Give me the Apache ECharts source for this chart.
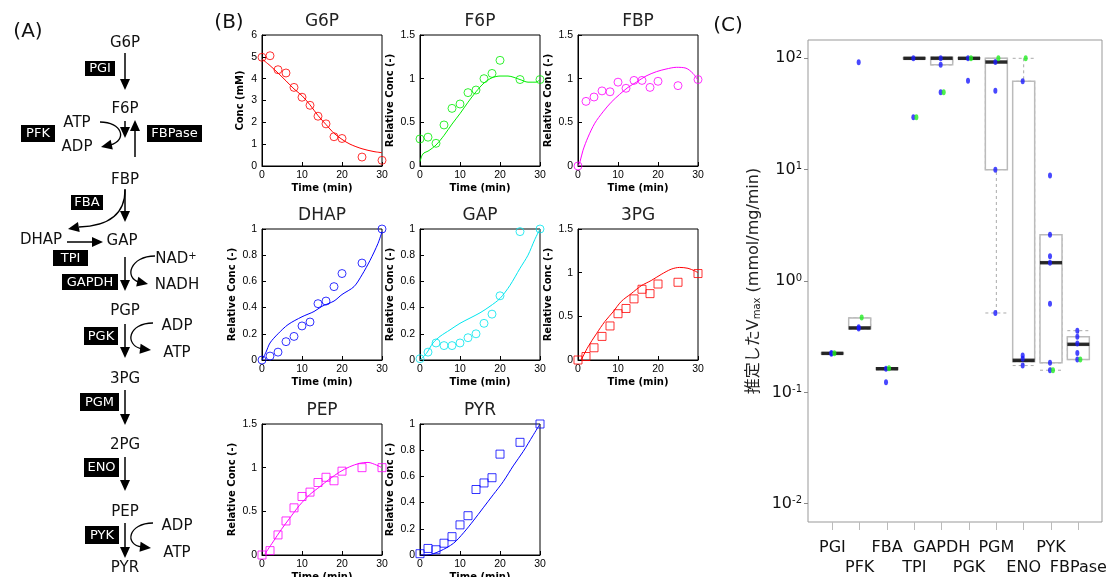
<!DOCTYPE html>
<html>
<head>
<meta charset="utf-8">
<title>Glycolysis model fit</title>
<script src="https://cdn.jsdelivr.net/npm/echarts@6.0.0/dist/echarts.min.js"></script>
<style>
  html, body { margin: 0; padding: 0; background: #fff; }
  #chart { width: 1113px; height: 577px; }
</style>
</head>
<body>
<div id="chart"></div>
<script>
// ---- (B) time courses: measured points (min) ----
const timePts = [0, 2, 4, 6, 8, 10, 12, 14, 16, 18, 20, 25, 30];

const g6pObs  = [4.98, 5.05, 4.41, 4.26, 3.6, 3.15, 2.78, 2.28, 1.93, 1.34, 1.26, 0.41, 0.26];
const f6pObs  = [0.31, 0.33, 0.26, 0.47, 0.66, 0.71, 0.84, 0.87, 1.0, 1.06, 1.21, 0.99, 0.99];
const fbpObs  = [0, 0.74, 0.79, 0.86, 0.85, 0.96, 0.89, 0.98, 0.98, 0.9, 0.97, 0.92, 0.99];
const dhapObs = [0, 0.03, 0.06, 0.14, 0.18, 0.26, 0.29, 0.43, 0.45, 0.56, 0.66, 0.74, 1.0];
const gapObs  = [0.01, 0.06, 0.13, 0.11, 0.11, 0.13, 0.17, 0.2, 0.28, 0.35, 0.49, 0.98, 1.0];
const pg3Obs  = [0, 0.04, 0.14, 0.27, 0.39, 0.53, 0.59, 0.7, 0.81, 0.76, 0.87, 0.89, 0.99];
const pepObs  = [0, 0.05, 0.23, 0.39, 0.54, 0.67, 0.72, 0.83, 0.89, 0.85, 0.96, 1.0, 1.0];
const pyrObs  = [0.01, 0.05, 0.04, 0.09, 0.14, 0.23, 0.3, 0.5, 0.55, 0.59, 0.77, 0.86, 1.0];

// ---- (B) simulated curves ----
const g6pFitT  = [0, 2, 4, 6, 8, 10, 12, 14, 16, 18, 20, 22, 25, 28, 30];
const g6pFitY  = [4.9, 4.6, 4.26, 3.9, 3.53, 3.22, 2.8, 2.31, 1.9, 1.5, 1.22, 1.0, 0.79, 0.66, 0.61];
const f6pFitT  = [0, 0.5, 1, 2, 4, 6, 8, 10, 12, 14, 16, 18, 20, 22, 25, 27, 29, 30];
const f6pFitY  = [0.05, 0.12, 0.15, 0.17, 0.24, 0.35, 0.48, 0.6, 0.73, 0.85, 0.95, 1.01, 1.03, 1.03, 0.99, 0.96, 0.96, 0.99];
const fbpFitT  = [0, 0.5, 1.25, 2.5, 4.2, 6.25, 8.3, 10.4, 12.5, 14.6, 17, 19.6, 22, 24.6, 27, 28.75, 30];
const fbpFitY  = [0, 0.05, 0.18, 0.33, 0.49, 0.62, 0.73, 0.82, 0.9, 0.96, 1.03, 1.08, 1.11, 1.13, 1.12, 1.06, 0.98];
const dhapFitT = [0, 1, 2, 4, 6.5, 10, 13, 15, 18, 20, 23, 25, 27, 29, 30];
const dhapFitY = [0, 0.06, 0.13, 0.2, 0.27, 0.33, 0.37, 0.41, 0.45, 0.5, 0.56, 0.65, 0.76, 0.89, 0.98];
const gapFitT  = [0, 1.6, 3.25, 5, 7.5, 10, 12.5, 15, 17.5, 20, 22.5, 25, 27, 28.7, 30];
const gapFitY  = [0, 0.05, 0.13, 0.18, 0.23, 0.28, 0.32, 0.36, 0.41, 0.47, 0.57, 0.7, 0.8, 0.92, 1.0];
const pg3FitT  = [0.8, 2.5, 4.6, 6.7, 8.75, 10.8, 13.3, 15.8, 18.3, 20.8, 23.3, 25.4, 27.5, 29.2, 30];
const pg3FitY  = [0, 0.15, 0.3, 0.44, 0.55, 0.67, 0.76, 0.85, 0.91, 0.98, 1.04, 1.06, 1.05, 1.02, 1.0];
const pepFitT  = [0.7, 2.75, 4.8, 6.9, 9.4, 11.9, 14.4, 16.9, 19.4, 21.9, 24.4, 26.5, 28.6, 30];
const pepFitY  = [0.01, 0.15, 0.29, 0.42, 0.57, 0.69, 0.78, 0.87, 0.95, 1.01, 1.05, 1.06, 1.03, 1.0];
const pyrFitT  = [0, 1.7, 5, 8.4, 10.9, 13.3, 15.8, 18.3, 20.8, 23.3, 25.8, 28.2, 30];
const pyrFitY  = [0, 0, 0.03, 0.09, 0.17, 0.26, 0.36, 0.46, 0.56, 0.68, 0.79, 0.91, 1.0];

// ---- (C) estimated Vmax ----
const enzymes  = ['PGI', 'PFK', 'FBA', 'TPI', 'GAPDH', 'PGK', 'PGM', 'ENO', 'PYK', 'FBPase'];
const vmaxMin  = [0.220, 0.372, 0.160, 99, 87.5, 99, 0.516, 0.174, 0.158, 0.197];
const vmaxQ1   = [0.222, 0.372, 0.160, 99, 87.5, 99, 10, 0.188, 0.184, 0.197];
const vmaxMed  = [0.224, 0.379, 0.163, 100, 100, 100, 92.6, 0.194, 1.46, 0.27];
const vmaxQ3   = [0.226, 0.466, 0.166, 101, 102, 101, 100, 62.2, 2.6, 0.315];
const vmaxMax  = [0.228, 0.466, 0.166, 101, 102, 101, 100, 100, 2.6, 0.358];
const vmaxBlue = [
  [0, 0.222], [0, 0.226], [1, 0.375], [1, 0.385], [1, 92], [2, 0.163], [2, 0.123],
  [3, 100], [3, 29.6], [4, 100], [4, 87.5], [4, 49.5], [5, 63], [5, 100],
  [6, 92.6], [6, 51], [6, 10], [6, 0.516], [7, 62.2], [7, 0.214], [7, 0.2], [7, 0.174],
  [8, 8.86], [8, 2.6], [8, 1.67], [8, 1.46], [8, 0.625], [8, 0.184], [8, 0.158],
  [9, 0.358], [9, 0.315], [9, 0.275], [9, 0.226], [9, 0.197]
];
const vmaxGreen = [
  [0, 0.224], [1, 0.47], [2, 0.165], [3, 29.6], [4, 49.5], [5, 100],
  [6, 100], [7, 100], [8, 0.158], [9, 0.197]
];
const vmaxTicks = [0.01, 0.1, 1, 10, 100];

const FONT = '"DejaVu Sans", "Noto Sans CJK JP", sans-serif';
const TICKFONT = '"Liberation Sans", Arial, sans-serif';

// 小パネルの定義（位置は画像から）
const colLeft = [262, 420, 578];
const rowTop = [35, 229, 424];
const PW = 120, PH = 131;

const panels = [
  { name: 'G6P',  obs: g6pObs,  fitT: g6pFitT,  fitY: g6pFitY,  color: '#ff0000', sym: 'circle', ymax: 6,   step: 1,   yname: 'Conc (mM)' },
  { name: 'F6P',  obs: f6pObs,  fitT: f6pFitT,  fitY: f6pFitY,  color: '#00ee00', sym: 'circle', ymax: 1.5, step: 0.5 },
  { name: 'FBP',  obs: fbpObs,  fitT: fbpFitT,  fitY: fbpFitY,  color: '#ff00ff', sym: 'circle', ymax: 1.5, step: 0.5 },
  { name: 'DHAP', obs: dhapObs, fitT: dhapFitT, fitY: dhapFitY, color: '#0000ff', sym: 'circle', ymax: 1,   step: 0.2 },
  { name: 'GAP',  obs: gapObs,  fitT: gapFitT,  fitY: gapFitY,  color: '#00e5ee', sym: 'circle', ymax: 1,   step: 0.2 },
  { name: '3PG',  obs: pg3Obs,  fitT: pg3FitT,  fitY: pg3FitY,  color: '#ff0000', sym: 'rect',   ymax: 1.5, step: 0.5 },
  { name: 'PEP',  obs: pepObs,  fitT: pepFitT,  fitY: pepFitY,  color: '#ff00ff', sym: 'rect',   ymax: 1.5, step: 0.5 },
  { name: 'PYR',  obs: pyrObs,  fitT: pyrFitT,  fitY: pyrFitY,  color: '#0000ff', sym: 'rect',   ymax: 1,   step: 0.2 }
];

const grids = [], xAxes = [], yAxes = [], series = [], graphic = [];

panels.forEach((p, i) => {
  const left = colLeft[i % 3], top = rowTop[Math.floor(i / 3)];
  grids.push({ left: left, top: top, width: PW, height: PH, show: true, borderColor: '#000', borderWidth: 1, outerBoundsMode: 'none', containLabel: false });
  xAxes.push({
    gridIndex: i, type: 'value', min: 0, max: 30, interval: 10,
    axisLine: { lineStyle: { color: '#000' } },
    axisTick: { inside: true, length: 4, lineStyle: { color: '#000' } },
    axisLabel: { fontSize: 10.5, color: '#000', margin: 4, fontFamily: TICKFONT },
    splitLine: { show: false },
    name: 'Time (min)', nameLocation: 'middle', nameGap: 17,
    nameTextStyle: { fontSize: 10, fontWeight: 'bold', color: '#000', fontFamily: FONT }
  });
  yAxes.push({
    gridIndex: i, type: 'value', min: 0, max: p.ymax, interval: p.step,
    axisLine: { lineStyle: { color: '#000' } },
    axisTick: { inside: true, length: 4, lineStyle: { color: '#000' } },
    axisLabel: { fontSize: 10.5, color: '#000', margin: 5, fontFamily: TICKFONT },
    splitLine: { show: false },
    name: p.yname || 'Relative Conc (-)', nameLocation: 'middle', nameGap: p.yname ? 17 : 25,
    nameTextStyle: { fontSize: 10, fontWeight: 'bold', color: '#000', fontFamily: FONT }
  });
  series.push({
    type: 'line', xAxisIndex: i, yAxisIndex: i, smooth: 0.3, showSymbol: false, silent: true,
    data: p.fitT.map((t, k) => [t, p.fitY[k]]),
    lineStyle: { color: p.color, width: 1 }, z: 2
  });
  series.push({
    type: 'scatter', xAxisIndex: i, yAxisIndex: i, symbol: p.sym, symbolSize: 8, clip: false, silent: true,
    data: timePts.map((t, k) => [t, p.obs[k]]),
    itemStyle: { color: 'transparent', borderColor: p.color, borderWidth: 1 }, z: 3
  });
  graphic.push({
    type: 'text', x: left + PW / 2, y: top - 13, silent: true,
    style: { text: p.name, fontSize: 17, fontFamily: FONT, fill: '#222', align: 'center', verticalAlign: 'middle' }
  });
});

// ---- (C) ----
// grid 8: frame + log y axis, grid 9: boxes/points, grid 10: dashed whiskers (own axes so boxes don't sit side by side)
const C_MIN = 0.00685, C_MAX = 146;
grids.push({ left: 808, top: 40, width: 294, height: 482, show: true, borderColor: '#999', borderWidth: 1, outerBoundsMode: 'none', containLabel: false });
grids.push({ left: 818.7, top: 40, width: 273.3, height: 482, outerBoundsMode: 'none', containLabel: false });
grids.push({ left: 818.7, top: 40, width: 273.3, height: 482, outerBoundsMode: 'none', containLabel: false });

xAxes.push({ gridIndex: 8, type: 'value', min: 0, max: 1, show: false });
yAxes.push({
  gridIndex: 8, type: 'log', logBase: 10, min: C_MIN, max: C_MAX,
  axisLine: { show: false },
  axisTick: { show: true, length: 4, lineStyle: { color: '#888' }, customValues: vmaxTicks },
  axisLabel: {
    customValues: vmaxTicks, fontSize: 16, color: '#111', margin: 6, fontFamily: FONT,
    formatter: v => '10{sup|' + Math.round(Math.log10(v)) + '}',
    rich: { sup: { fontSize: 10, verticalAlign: 'top', fontFamily: FONT, color: '#111' } }
  },
  splitLine: { show: false },
  name: '推定したV{sub|max} (mmol/mg/min)', nameLocation: 'middle', nameGap: 46,
  nameTextStyle: {
    fontSize: 16, color: '#222', fontFamily: FONT,
    rich: { sub: { fontSize: 10, verticalAlign: 'bottom', fontFamily: FONT, color: '#222' } }
  }
});
xAxes.push({
  gridIndex: 9, type: 'category', data: enzymes,
  axisLine: { show: false },
  axisTick: { show: true, alignWithLabel: true, length: 8, lineStyle: { color: '#bbb' } },
  axisLabel: {
    interval: 0, fontSize: 16, lineHeight: 20, color: '#111', margin: 16, fontFamily: FONT,
    formatter: (v, i) => (i % 2 ? '\n' + v : v)
  }
});
yAxes.push({ gridIndex: 9, type: 'log', logBase: 10, min: C_MIN, max: C_MAX, show: false });
xAxes.push({ gridIndex: 10, type: 'category', data: enzymes, show: false });
yAxes.push({ gridIndex: 10, type: 'log', logBase: 10, min: C_MIN, max: C_MAX, show: false });

series.push({
  type: 'boxplot', xAxisIndex: 10, yAxisIndex: 10, silent: true, boxWidth: [22, 22],
  data: enzymes.map((_, i) => [vmaxMin[i], vmaxQ1[i], vmaxMed[i], vmaxQ3[i], vmaxMax[i]]),
  itemStyle: { color: 'transparent', borderColor: '#aaa', borderWidth: 1, borderType: [3, 3] }, z: 2
});
series.push({
  type: 'boxplot', xAxisIndex: 9, yAxisIndex: 9, silent: true, boxWidth: [22, 22],
  data: enzymes.map((_, i) => [vmaxQ1[i], vmaxQ1[i], vmaxMed[i], vmaxQ3[i], vmaxQ3[i]]),
  itemStyle: { color: '#fff', borderColor: '#bbb', borderWidth: 1.5 }, z: 3
});
series.push({
  type: 'scatter', xAxisIndex: 9, yAxisIndex: 9, silent: true, symbol: 'rect', symbolSize: [22, 3.5],
  data: vmaxMed.map((v, i) => [i, v]), itemStyle: { color: '#000' }, z: 4
});
series.push({
  type: 'scatter', xAxisIndex: 9, yAxisIndex: 9, silent: true, symbolSize: [4, 6], symbolOffset: [-1, 0],
  data: vmaxBlue, itemStyle: { color: '#1a1aff' }, z: 5
});
series.push({
  type: 'scatter', xAxisIndex: 9, yAxisIndex: 9, silent: true, symbolSize: [4, 6], symbolOffset: [2, 0],
  data: vmaxGreen, itemStyle: { color: '#22ee22' }, z: 6
});

// ---- (A) 経路図 ----
function txt(x, y, s, size, extra) {
  return { type: 'text', x: x, y: y, silent: true,
    style: Object.assign({ text: s, fontSize: size, fontFamily: FONT, fill: '#111', align: 'center', verticalAlign: 'middle' }, extra || {}) };
}
function head(x, y, ang) {
  const L = 11, W = 5;
  const bx = x - L * Math.cos(ang), by = y - L * Math.sin(ang);
  const px = -Math.sin(ang) * W, py = Math.cos(ang) * W;
  return { type: 'polygon', silent: true, shape: { points: [[x, y], [bx + px, by + py], [bx - px, by - py]] }, style: { fill: '#000' } };
}
function vArrow(x, y1, y2) {
  const down = y2 > y1;
  return [
    { type: 'line', silent: true, shape: { x1: x, y1: y1, x2: x, y2: y2 + (down ? -9 : 9) }, style: { stroke: '#000', lineWidth: 1.5 } },
    head(x, y2, down ? Math.PI / 2 : -Math.PI / 2)
  ];
}
function hArrow(y, x1, x2) {
  return [
    { type: 'line', silent: true, shape: { x1: x1, y1: y, x2: x2 - 9, y2: y }, style: { stroke: '#000', lineWidth: 1.5 } },
    head(x2, y, 0)
  ];
}
function curveArrow(p0, c1, c2, p1, tip) {
  return [
    { type: 'bezierCurve', silent: true,
      shape: { x1: p0[0], y1: p0[1], cpx1: c1[0], cpy1: c1[1], cpx2: c2[0], cpy2: c2[1], x2: p1[0], y2: p1[1] },
      style: { stroke: '#000', fill: null, lineWidth: 1.3 } },
    head(tip[0], tip[1], Math.atan2(tip[1] - p1[1], tip[0] - p1[0]))
  ];
}
function enzyme(x, y, w, h, label) {
  return [
    { type: 'rect', silent: true, shape: { x: x, y: y, width: w, height: h }, style: { fill: '#000' } },
    txt(x + w / 2, y + h / 2 + 0.5, label, 13, { fill: '#fff' })
  ];
}

graphic.push(
  txt(28, 32, '(A)', 20), txt(229, 23, '(B)', 20), txt(728, 26, '(C)', 20),
  txt(125, 43, 'G6P', 15), txt(125, 109, 'F6P', 15), txt(125, 180, 'FBP', 15),
  txt(41, 240, 'DHAP', 15), txt(122, 241, 'GAP', 15), txt(125, 311, 'PGP', 15),
  txt(125, 379, '3PG', 15), txt(125, 445, '2PG', 15), txt(125, 512, 'PEP', 15), txt(125, 568, 'PYR', 15),
  txt(77, 123, 'ATP', 15), txt(77, 147, 'ADP', 15),
  txt(176, 259, 'NAD{sup|+}', 15, { rich: { sup: { fontSize: 10, verticalAlign: 'top', fontFamily: FONT, fill: '#111' } } }),
  txt(177, 285, 'NADH', 15),
  txt(177, 326, 'ADP', 15), txt(177, 353, 'ATP', 15),
  txt(177, 526, 'ADP', 15), txt(177, 553, 'ATP', 15)
);
graphic.push(
  ...enzyme(85, 61, 30, 15, 'PGI'),
  ...enzyme(21, 125, 34, 17, 'PFK'),
  ...enzyme(147, 125, 55, 17, 'FBPase'),
  ...enzyme(71, 195, 32, 15, 'FBA'),
  ...enzyme(53, 250, 35, 16, 'TPI'),
  ...enzyme(62, 274, 56, 16, 'GAPDH'),
  ...enzyme(84, 327, 34, 18, 'PGK'),
  ...enzyme(80, 393, 39, 18, 'PGM'),
  ...enzyme(84, 458, 35, 19, 'ENO'),
  ...enzyme(85, 526, 34, 18, 'PYK')
);
graphic.push(
  ...vArrow(125, 53, 90),
  ...vArrow(125, 121, 138),
  ...vArrow(135, 157, 120),
  ...curveArrow([100, 122], [122, 122], [128, 140], [110, 145], [101, 147]),
  ...vArrow(125, 189, 222),
  ...curveArrow([125, 190], [125, 215], [108, 226], [79, 227], [68, 229]),
  ...hArrow(242, 67, 103),
  ...vArrow(125, 257, 291),
  ...curveArrow([155, 256], [130, 256], [124, 278], [139, 282], [148, 284]),
  ...vArrow(125, 324, 358),
  ...curveArrow([153, 323], [128, 323], [124, 345], [142, 349], [151, 350]),
  ...vArrow(125, 390, 425),
  ...vArrow(125, 457, 491),
  ...vArrow(125, 523, 558),
  ...curveArrow([153, 523], [128, 523], [124, 545], [142, 547], [151, 548])
);

const chart = echarts.init(document.getElementById('chart'), null, { renderer: 'canvas' });
chart.setOption({
  animation: false,
  backgroundColor: '#fff',
  grid: grids,
  xAxis: xAxes,
  yAxis: yAxes,
  series: series,
  graphic: graphic
});
window.addEventListener('resize', () => chart.resize());
</script>
</body>
</html>
